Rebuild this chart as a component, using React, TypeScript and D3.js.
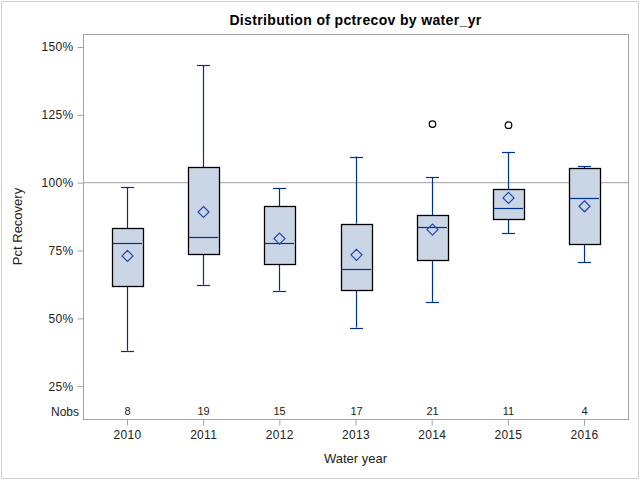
import { useEffect, useRef } from 'react'
import * as d3 from 'd3'

// water years and per-year box stats (fractions, shown as %)
const years = ['2010', '2011', '2012', '2013', '2014', '2015', '2016']
const nobs = [8, 19, 15, 17, 21, 11, 4]
const whiskerLow = [0.381, 0.624, 0.602, 0.466, 0.561, 0.815, 0.708]
const q1 = [0.62, 0.738, 0.701, 0.606, 0.716, 0.867, 0.775]
const median = [0.778, 0.8, 0.778, 0.683, 0.837, 0.907, 0.944]
const q3 = [0.833, 1.058, 0.914, 0.849, 0.88, 0.977, 1.054]
const whiskerHigh = [0.984, 1.433, 0.98, 1.096, 1.021, 1.113, 1.061]
const means = [0.73, 0.892, 0.794, 0.734, 0.827, 0.944, 0.913]
const outliers: { year: string; value: number }[] = [
  { year: '2014', value: 1.216 },
  { year: '2015', value: 1.212 },
]
const yTicks = [0.25, 0.5, 0.75, 1.0, 1.25, 1.5]

const W = 640
const H = 480
const FONT = '"Liberation Sans", Arial, sans-serif'

export default function App() {
  const svgRef = useRef<SVGSVGElement>(null)

  useEffect(() => {
    if (!svgRef.current) return
    const svg = d3.select(svgRef.current)
    svg.selectAll('*').remove()

    const plot = { left: 83, top: 34, right: 628, bottom: 419 }

    const x = d3.scalePoint<string>()
      .domain(years)
      .range([plot.left, plot.right])
      .padding(0.577)

    const y = d3.scaleLinear()
      .domain([0.129, 1.548])
      .range([plot.bottom, plot.top])

    const boxW = 31
    const capW = 13
    const blue = '#00318f'

    // outer frame
    svg.append('rect')
      .attr('x', 1.5).attr('y', 1.5)
      .attr('width', W - 3).attr('height', H - 3)
      .attr('fill', 'white')
      .attr('stroke', '#d0d0d0')

    // title
    svg.append('text')
      .attr('x', (plot.left + plot.right) / 2)
      .attr('y', 25)
      .attr('text-anchor', 'middle')
      .attr('font-family', FONT)
      .attr('font-size', 14)
      .attr('font-weight', 'bold')
      .attr('letter-spacing', 0.35)
      .text('Distribution of pctrecov by water_yr')

    // reference line at 100%
    svg.append('line')
      .attr('x1', plot.left).attr('x2', plot.right)
      .attr('y1', y(1)).attr('y2', y(1))
      .attr('stroke', '#a0a0a0')

    const g = svg.append('g')

    years.forEach((yr, i) => {
      const cx = Math.round(x(yr)!) + 0.5
      // whiskers
      g.append('line')
        .attr('x1', cx).attr('x2', cx)
        .attr('y1', y(whiskerHigh[i])).attr('y2', y(q3[i]))
        .attr('stroke', blue).attr('stroke-width', 1.2)
      g.append('line')
        .attr('x1', cx).attr('x2', cx)
        .attr('y1', y(q1[i])).attr('y2', y(whiskerLow[i]))
        .attr('stroke', blue).attr('stroke-width', 1.2)
      ;[whiskerHigh[i], whiskerLow[i]].forEach(v => {
        g.append('line')
          .attr('x1', cx - capW / 2).attr('x2', cx + capW / 2)
          .attr('y1', Math.round(y(v)) + 0.5).attr('y2', Math.round(y(v)) + 0.5)
          .attr('stroke', blue).attr('stroke-width', 1.2)
      })
      // box
      g.append('rect')
        .attr('x', Math.round(cx - boxW / 2) + 0.5)
        .attr('y', Math.round(y(q3[i])) + 0.5)
        .attr('width', boxW)
        .attr('height', Math.round(y(q1[i])) - Math.round(y(q3[i])))
        .attr('fill', '#cad5e5')
        .attr('stroke', 'black')
        .attr('stroke-width', 1.3)
      // median
      g.append('line')
        .attr('x1', cx - boxW / 2 + 1).attr('x2', cx + boxW / 2 - 1)
        .attr('y1', Math.round(y(median[i])) + 0.5).attr('y2', Math.round(y(median[i])) + 0.5)
        .attr('stroke', blue).attr('stroke-width', 1.2)
      // mean diamond
      const my = y(means[i])
      const d = 5.5
      g.append('path')
        .attr('d', `M${cx},${my - d}L${cx + d},${my}L${cx},${my + d}L${cx - d},${my}Z`)
        .attr('fill', 'none')
        .attr('stroke', '#2147b0')
        .attr('stroke-width', 1.2)
      // nobs
      g.append('text')
        .attr('x', cx)
        .attr('y', 415)
        .attr('text-anchor', 'middle')
        .attr('font-family', FONT)
        .attr('font-size', 11)
        .attr('fill', '#222')
        .text(nobs[i])
    })

    outliers.forEach(o => {
      g.append('circle')
        .attr('cx', Math.round(x(o.year)!) + 0.5)
        .attr('cy', y(o.value))
        .attr('r', 3.3)
        .attr('fill', 'none')
        .attr('stroke', 'black')
        .attr('stroke-width', 1.2)
    })

    // plot frame
    svg.append('rect')
      .attr('x', plot.left + 0.5).attr('y', plot.top + 0.5)
      .attr('width', plot.right - plot.left).attr('height', plot.bottom - plot.top)
      .attr('fill', 'none')
      .attr('stroke', '#a0a4a8')

    // y axis
    const yAxis = svg.append('g')
      .attr('transform', `translate(${plot.left + 0.5},0)`)
      .call(d3.axisLeft(y).tickValues(yTicks).tickSize(6).tickPadding(4)
        .tickFormat(d => `${Math.round(Number(d) * 100)}%`))
    yAxis.select('.domain').remove()
    yAxis.selectAll('line').attr('stroke', '#a0a4a8')
    yAxis.selectAll('text')
      .attr('font-family', FONT).attr('font-size', 12).attr('fill', '#222')
      .attr('letter-spacing', 0.3)

    svg.append('text')
      .attr('x', 79).attr('y', 416)
      .attr('text-anchor', 'end')
      .attr('font-family', FONT).attr('font-size', 12).attr('fill', '#222')
      .text('Nobs')

    // x axis
    const xAxis = svg.append('g')
      .attr('transform', `translate(0,${plot.bottom + 0.5})`)
      .call(d3.axisBottom(x).tickSize(6).tickPadding(5))
    xAxis.select('.domain').remove()
    xAxis.selectAll('line').attr('stroke', '#a0a4a8')
    xAxis.selectAll('text')
      .attr('font-family', FONT).attr('font-size', 12).attr('fill', '#222')
      .attr('letter-spacing', 0.3)

    svg.append('text')
      .attr('x', (plot.left + plot.right) / 2)
      .attr('y', 463)
      .attr('text-anchor', 'middle')
      .attr('font-family', FONT).attr('font-size', 13).attr('fill', '#222')
      .text('Water year')

    svg.append('text')
      .attr('transform', `translate(22,${(plot.top + plot.bottom) / 2}) rotate(-90)`)
      .attr('text-anchor', 'middle')
      .attr('font-family', FONT).attr('font-size', 13).attr('fill', '#222')
      .text('Pct Recovery')
  }, [])

  return (
    <svg
      ref={svgRef}
      width={W}
      height={H}
      style={{ position: 'absolute', left: 0, top: 0 }}
    />
  )
}
